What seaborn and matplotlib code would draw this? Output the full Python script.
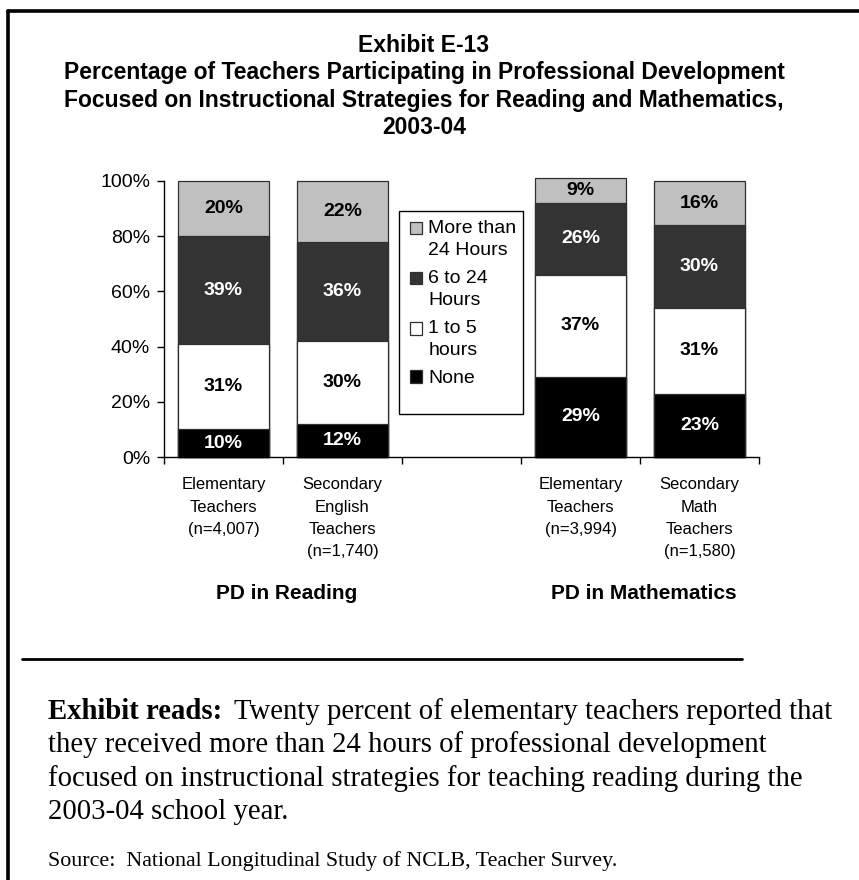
# %%
import numpy as np
import pandas as pd
import seaborn as sns
import matplotlib.pyplot as plt
from matplotlib.patches import Patch, Rectangle
from matplotlib.legend_handler import HandlerPatch
from matplotlib.lines import Line2D

# %%
# data read off the exhibit
groups = ['Elementary\nTeachers\n(n=4,007)',
          'Secondary\nEnglish\nTeachers\n(n=1,740)',
          ' ',
          'Elementary\nTeachers\n(n=3,994)',
          'Secondary\nMath\nTeachers\n(n=1,580)']
bar_groups = [groups[0], groups[1], groups[3], groups[4]]
levels = ['None', '1 to 5\nhours', '6 to 24\nHours', 'More than\n24 Hours']
none_pct = [10, 12, 29, 23]
low_pct = [31, 30, 37, 31]
mid_pct = [39, 36, 26, 30]
high_pct = [20, 22, 9, 16]
sections = ['PD in Reading', 'PD in Mathematics']

colors = ['#000000', '#FFFFFF', '#333333', '#C0C0C0']
text_colors = ['white', 'black', 'white', 'black']

title_lines = ['Exhibit E-13',
               'Percentage of Teachers Participating in Professional Development',
               'Focused on Instructional Strategies for Reading and Mathematics,',
               '2003-04']
reads_rest = ['Twenty percent of elementary teachers reported that',
              'they received more than 24 hours of professional development',
              'focused on instructional strategies for teaching reading during the',
              '2003-04 school year.']
source = 'Source:  National Longitudinal Study of NCLB, Teacher Survey.'

# %%
df = pd.DataFrame({'group': bar_groups, levels[0]: none_pct, levels[1]: low_pct,
                   levels[2]: mid_pct, levels[3]: high_pct})
pct = df.set_index('group')[levels] / 100
tops = pct.cumsum(axis=1)

sns.set_style('ticks')
plt.rcParams['font.family'] = ['Liberation Sans', 'DejaVu Sans']
plt.rcParams.update({'text.color': 'black', 'axes.labelcolor': 'black',
                     'xtick.color': 'black', 'ytick.color': 'black',
                     'axes.edgecolor': 'black'})

W, H = 859, 880
fig = plt.figure(figsize=(W / 100, H / 100), dpi=100)
ax = fig.add_axes([164 / W, 1 - 457 / H, 595 / W, 276 / H])

# stacked bars: draw cumulative heights from the top layer down
for lvl, col in reversed(list(zip(levels, colors))):
    layer = tops[lvl].reset_index()
    sns.barplot(data=layer, x='group', y=lvl, order=groups, color=col,
                saturation=1, width=0.773, edgecolor='#303030', linewidth=0.9,
                errorbar=None, ax=ax, clip_on=False)

# segment labels
for g in bar_groups:
    xpos = groups.index(g)
    for lvl, tc in zip(levels, text_colors):
        mid = tops.loc[g, lvl] - pct.loc[g, lvl] / 2
        ax.text(xpos, mid, f'{round(pct.loc[g, lvl] * 100)}%', ha='center', va='center',
                color=tc, fontsize=14, fontweight='bold')

ax.set_ylim(0, 1)
ax.set_xlim(-0.5, len(groups) - 0.5)
ax.set_yticks(np.linspace(0, 1, 6))
ax.set_yticklabels([f'{int(v * 100)}%' for v in np.linspace(0, 1, 6)], fontsize=14)
ax.tick_params(axis='y', length=5, width=1, pad=5)
ax.set_xticks(range(len(groups)))
ax.set_xticklabels(groups, fontsize=12, linespacing=1.62)
ax.set_xticks(np.arange(-0.5, len(groups)), minor=True)
ax.tick_params(axis='x', which='major', length=0, pad=14.5)
ax.tick_params(axis='x', which='minor', length=5, width=1)
ax.set_xlabel('')
ax.set_ylabel('')
sns.despine(ax=ax)
for s in ['left', 'bottom']:
    ax.spines[s].set_linewidth(1)

# group captions under the categories
for k, name in enumerate(sections):
    idx = [0, 1] if k == 0 else [3, 4]
    ax.text(np.mean(idx) + 0.03, -0.495, name, transform=ax.get_xaxis_transform(),
            ha='center', va='center', fontsize=15, fontweight='bold')

# legend, handles aligned with the first line of each label
def top_line_handler(n_lines, step=8.0):
    def f(legend, orig_handle, xdescent, ydescent, width, height, fontsize):
        return Rectangle((-xdescent, -ydescent + (n_lines - 1) * step), width, height)
    return HandlerPatch(patch_func=f)

handles = [Patch(facecolor=c, edgecolor='#303030', linewidth=0.9) for c in colors][::-1]
labels = levels[::-1]
hmap = {h: top_line_handler(l.count('\n') + 1) for h, l in zip(handles, labels)}
leg = ax.legend(handles, labels, handler_map=hmap, loc='upper left',
                bbox_to_anchor=(0.4134, 0.86), frameon=False, fontsize=14,
                borderpad=0, borderaxespad=0, handlelength=0.62, handleheight=0.62,
                handletextpad=0.33, labelspacing=0.55)
for t in leg.get_texts():
    t.set_linespacing(1.42)
ax.add_patch(Rectangle(((399 - 164) / 595, (457 - 414) / 276), 124 / 595, 203 / 276,
                       transform=ax.transAxes, fill=False, edgecolor='black',
                       linewidth=1, clip_on=False))

# title
for y, line in zip([46, 73, 100, 127], title_lines):
    fig.text(424 / W, 1 - y / H, line, ha='center', va='center',
             fontsize=16.5, fontweight='bold')

# frame and rule
fig.add_artist(Line2D([8 / W, 1], [1 - 11.5 / H] * 2, color='black', lw=2.6, transform=fig.transFigure))
fig.add_artist(Line2D([8 / W] * 2, [0, 1 - 11.5 / H], color='black', lw=2.6, transform=fig.transFigure))
fig.add_artist(Line2D([22 / W, 742 / W], [1 - 659 / H] * 2, color='black', lw=2, transform=fig.transFigure))

# note text
serif = ['Liberation Serif', 'DejaVu Serif']
ys = [719, 752, 786, 819]
bold = fig.text(48 / W, 1 - ys[0] / H, 'Exhibit reads:', ha='left', va='baseline',
                family=serif, fontsize=20.7, fontweight='bold')
fig.canvas.draw()
bb = bold.get_window_extent()
fig.text((bb.x1 + 12) / W, 1 - ys[0] / H, reads_rest[0], ha='left', va='baseline',
         family=serif, fontsize=20.7)
for y, line in zip(ys[1:], reads_rest[1:]):
    fig.text(48 / W, 1 - y / H, line, ha='left', va='baseline', family=serif, fontsize=20.7)
fig.text(48 / W, 1 - 866 / H, source, ha='left', va='baseline', family=serif, fontsize=15.8)

plt.savefig('out.png', dpi=100, facecolor='white')
